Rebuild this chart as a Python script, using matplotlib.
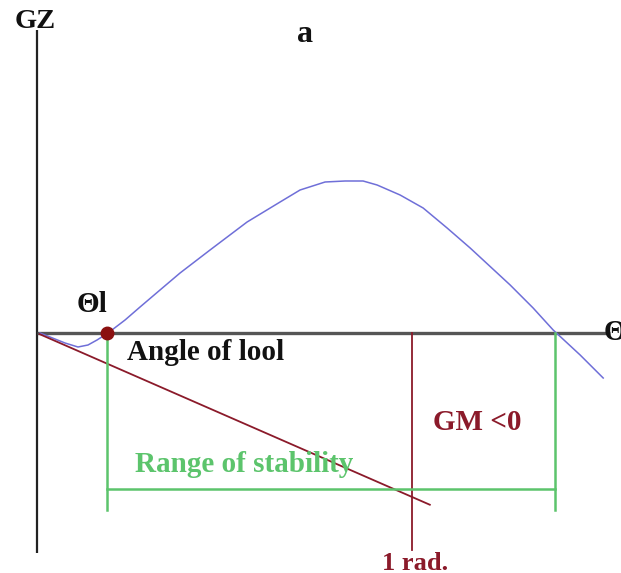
import numpy as np
import matplotlib.pyplot as plt

# Righting-lever (GZ) curve for a ship with negative GM: heel angle in degrees, GZ in metres
theta = [0.46, 2.75, 4.28, 6.26, 7.79, 9.17, 10.85, 13.45, 15.74, 18.79, 21.85, 26.43,
         32.09, 37.13, 40.18, 44.00, 47.06, 49.81, 51.95, 55.46, 58.98, 62.64, 66.16,
         72.27, 75.78, 78.84, 82.96, 86.48]
gz = [0.0, -0.012, -0.020, -0.028, -0.024, -0.014, 0.0, 0.026, 0.052, 0.086, 0.120, 0.166,
      0.222, 0.262, 0.286, 0.302, 0.304, 0.304, 0.296, 0.276, 0.250, 0.210, 0.170,
      0.096, 0.050, 0.006, -0.044, -0.090]

gm = -0.328              # initial metacentric height (negative)
gm_line_end = 60.0       # degrees, where the GM tangent line stops
angle_of_loll = 10.7     # degrees
vanishing_angle = 79.1   # degrees
one_rad = np.degrees(1.0)

blue = '#6f6fd8'
dark_red = '#8b1a2a'
green = '#5cc46c'

fig = plt.figure(figsize=(6.21, 5.73), dpi=100)
ax = fig.add_axes([0, 0, 1, 1])
ax.set_xlim(-5.65, 89.2)
ax.set_ylim(-0.48, 0.666)
ax.axis('off')

font = dict(family='Liberation Serif', fontweight='bold')

# axes of the diagram
ax.plot([0, 0], [-0.44, 0.606], color='#222222', lw=1.6, solid_capstyle='butt')
ax.plot([0, 87.5], [0, 0], color='#555555', lw=2.4, solid_capstyle='butt')

# GZ curve
ax.plot(theta, gz, color=blue, lw=1.1, solid_joinstyle='round')

# GM tangent line: GZ = GM * theta(rad)
tl = np.array([0.4, gm_line_end])
ax.plot(tl, gm * np.radians(tl), color=dark_red, lw=1.3)

# 1 radian marker
ax.plot([one_rad, one_rad], [0, -0.434], color=dark_red, lw=1.3)

# range of stability bracket
ax.plot([angle_of_loll, angle_of_loll], [0, -0.354], color=green, lw=1.8)
ax.plot([vanishing_angle, vanishing_angle], [0, -0.354], color=green, lw=1.8)
ax.plot([angle_of_loll, vanishing_angle], [-0.312, -0.312], color=green, lw=1.8)

# angle of loll point
ax.plot([angle_of_loll], [0], 'o', color='#8b1010', ms=9, zorder=5)

ax.text(-0.3, 0.622, 'GZ', ha='center', va='center', fontsize=20.5, color='#111111', **font)
ax.text(41.0, 0.596, 'a', ha='center', va='center', fontsize=23, color='#111111', **font)
ax.text(8.4, 0.056, 'Θl', ha='center', va='center', fontsize=21, color='#111111', **font)
ax.text(86.5, 0.0, 'Θ', ha='left', va='center', fontsize=21, color='#111111', **font)
ax.text(13.75, -0.038, 'Angle of lool', ha='left', va='center', fontsize=21,
        color='#111111', **font)
ax.text(15.0, -0.264, 'Range of stability', ha='left', va='center', fontsize=21,
        color=green, **font)
ax.text(60.5, -0.18, 'GM <0', ha='left', va='center', fontsize=21, color=dark_red, **font)
ax.text(57.8, -0.46, '1 rad.', ha='center', va='center', fontsize=19, color=dark_red, **font)

fig.savefig('out.png', dpi=100)
